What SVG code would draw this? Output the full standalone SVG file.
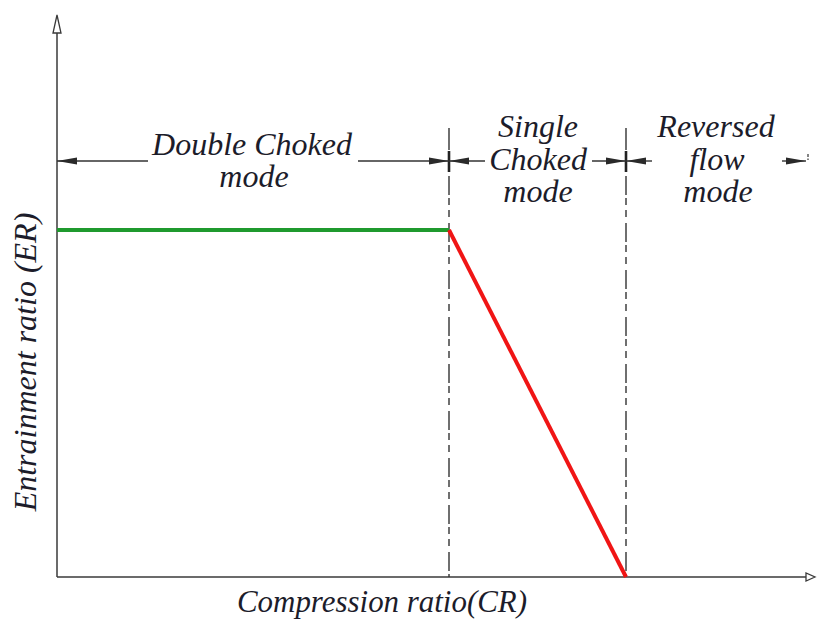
<svg xmlns="http://www.w3.org/2000/svg" width="819" height="621" viewBox="0 0 819 621">
  <defs>
    <marker id="dim-arrow" viewBox="0 0 20 8" refX="20" refY="4" markerWidth="20" markerHeight="8" markerUnits="userSpaceOnUse" orient="auto-start-reverse">
      <path d="M0,0.6 L20,4 L0,7.4 Z" fill="#2a2a2a"/>
    </marker>
  </defs>
  <style>
    .lbl { font-family: "Liberation Serif", "Times New Roman", serif; font-style: italic; font-size: 32px; fill: #1c1c2a; text-anchor: middle; }
    .axis { stroke: #3a3a3a; stroke-width: 1.5; fill: none; }
    .axis-head { fill: #ffffff; stroke: #3a3a3a; stroke-width: 1.3; }
    .bound { stroke: #333; stroke-width: 1.4; fill: none; stroke-dasharray: 19 3 7 5 7 6; }
    .bound-top { stroke: #333; stroke-width: 1.4; fill: none; }
    .ext { stroke: #222; stroke-width: 2.6; }
    .dim { stroke: #333; stroke-width: 1.4; fill: none; }
  </style>

  <rect width="819" height="621" fill="#ffffff"/>

  <!-- axes -->
  <g id="y-axis">
    <line class="axis" x1="57" y1="33" x2="57" y2="577"/>
    <path class="axis-head" d="M57,15 L61,33 L53,33 Z"/>
  </g>
  <g id="x-axis">
    <line class="axis" x1="57" y1="577" x2="806" y2="577" stroke="#8a8a8a" stroke-width="2"/>
    <path class="axis-head" d="M815,577 L806,581 L806,573 Z"/>
  </g>

  <!-- mode boundaries -->
  <g id="boundaries">
    <line class="bound-top" x1="449" y1="128" x2="449" y2="150"/>
    <line class="ext" x1="449" y1="151" x2="449" y2="172"/>
    <line class="bound" x1="449" y1="176" x2="449" y2="577"/>
    <line class="bound-top" x1="626" y1="128" x2="626" y2="150"/>
    <line class="ext" x1="626" y1="151" x2="626" y2="172"/>
    <line class="bound" x1="626" y1="176" x2="626" y2="577"/>
    <line x1="808" y1="154" x2="808" y2="160" stroke="#333" stroke-width="1.2" stroke-dasharray="3 1.5"/>
  </g>

  <!-- dimension arrows -->
  <g id="connectors">
    <line class="dim" x1="148" y1="161" x2="57" y2="161" marker-end="url(#dim-arrow)"/>
    <line class="dim" x1="358" y1="161" x2="449" y2="161" marker-end="url(#dim-arrow)"/>
    <line class="dim" x1="485" y1="161" x2="449" y2="161" marker-end="url(#dim-arrow)"/>
    <line class="dim" x1="592" y1="161" x2="626" y2="161" marker-end="url(#dim-arrow)"/>
    <line class="dim" x1="652" y1="161" x2="626" y2="161" marker-end="url(#dim-arrow)"/>
    <line class="dim" x1="782" y1="161" x2="806" y2="161" marker-end="url(#dim-arrow)"/>
  </g>

  <!-- entrainment curve -->
  <g id="curve">
    <line x1="57" y1="230" x2="449" y2="230" stroke="#1f9a2e" stroke-width="4"/>
    <line x1="449" y1="230" x2="626" y2="577" stroke="#f01515" stroke-width="4"/>
  </g>

  <!-- region labels -->
  <g id="double-choked">
    <text class="lbl"><tspan x="252" y="155">Double Choked</tspan><tspan x="254" y="187">mode</tspan></text>
  </g>
  <g id="single-choked">
    <text class="lbl"><tspan x="538" y="137">Single</tspan><tspan x="538" y="170">Choked</tspan><tspan x="538" y="202">mode</tspan></text>
  </g>
  <g id="reversed-flow">
    <text class="lbl"><tspan x="716" y="137">Reversed</tspan><tspan x="717" y="170">flow</tspan><tspan x="718" y="202">mode</tspan></text>
  </g>

  <!-- axis titles -->
  <g id="axis-titles">
    <text class="lbl" x="382" y="612" textLength="290" lengthAdjust="spacingAndGlyphs">Compression ratio(CR)</text>
    <text class="lbl" transform="translate(36,362) rotate(-90)" x="0" y="0">Entrainment ratio (ER)</text>
  </g>
</svg>
